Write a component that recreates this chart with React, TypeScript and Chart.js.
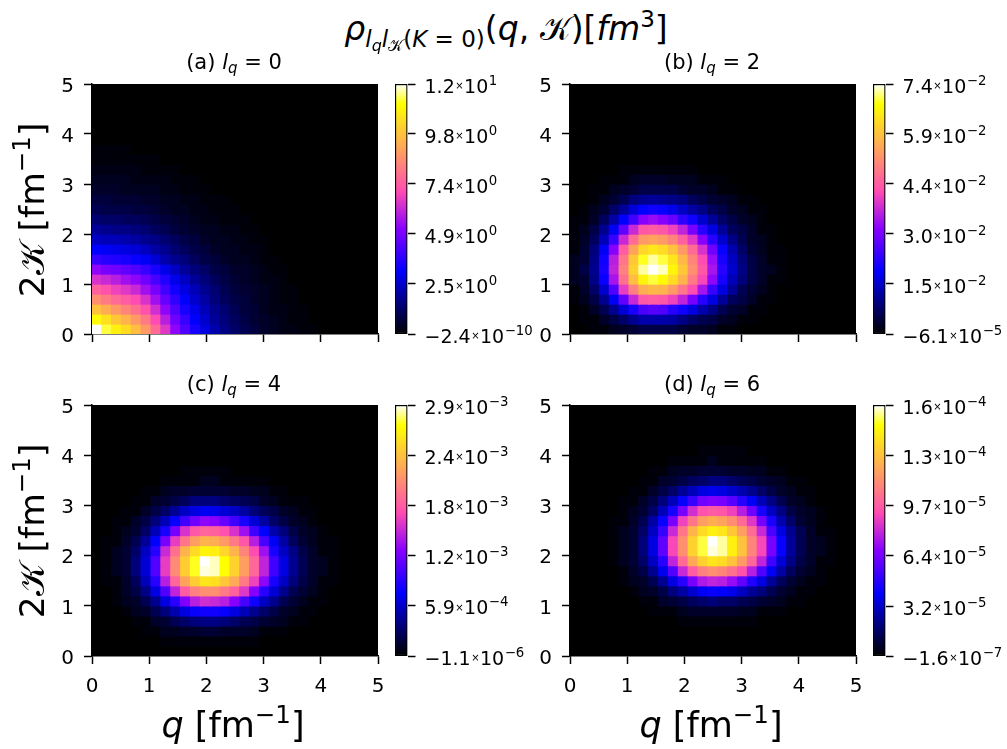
import React, { useEffect, useRef } from "react";
import { Chart, registerables } from "chart.js";

Chart.register(...registerables);

const qCells = [0.086,0.259,0.431,0.603,0.776,0.948,1.121,1.293,1.466,1.638,1.81,1.983,2.155,2.328,2.5,2.672,2.845,3.017,3.19,3.362,3.534,3.707,3.879,4.052,4.224,4.397,4.569,4.741,4.914];
const kCells = [0.1,0.3,0.5,0.7,0.9,1.1,1.3,1.5,1.7,1.9,2.1,2.3,2.5,2.7,2.9,3.1,3.3,3.5,3.7,3.9,4.1,4.3,4.5,4.7,4.9];

// Percent of each panel's colour-bar range, one row per kCells entry; short rows end in black.
const rowsA = [
[100,94,89,85,79,72,63,53,43,35,28,22,17,13,10,8,6,4,3,2,2,1,1],
[91,86,81,77,72,66,57,48,39,32,25,20,15,12,9,7,5,4,3,2,1,1],
[80,76,72,68,64,58,51,43,35,28,23,18,14,11,8,6,5,3,2,2,1,1],
[70,66,63,60,57,52,45,38,31,25,20,16,12,9,7,6,4,3,2,1,1],
[61,58,55,53,50,45,40,33,27,22,18,14,11,8,6,5,4,3,2,1,1],
[52,50,48,45,43,39,34,29,23,19,15,12,9,7,5,4,3,2,2,1],
[43,40,39,37,35,32,28,23,19,15,12,10,7,6,4,4,3,2,1,1],
[32,30,29,28,26,24,21,17,14,12,9,7,6,4,3,3,2,1,1],
[25,24,23,22,21,19,16,14,11,9,7,6,4,3,3,2,2,1],
[19,18,18,17,16,14,13,11,9,7,6,4,3,3,2,2,1,1],
[15,14,13,13,12,11,9,8,6,5,4,3,3,2,2,1,1],
[11,10,10,9,9,8,7,6,5,4,3,2,2,1,1,1],
[8,7,7,7,6,6,5,4,3,3,2,2,1,1,1],
[6,6,5,5,5,4,4,3,3,2,2,1,1,1],
[4,4,4,3,3,3,3,2,2,1,1,1],
[3,3,3,3,2,2,2,2,1,1,1],
[2,2,2,2,2,1,1,1,1],
[1,1,1,1,1,1,1],
[1,1,1,1],
];
const rowsB = [
[0,0,1,1,3,4,5,7,7,7,7,5,4,4,3,1,1],
[0,1,1,4,7,10,14,17,17,17,16,13,10,8,7,4,3,1,1],
[0,1,4,8,14,21,28,34,36,35,30,27,22,17,13,8,5,4,1,1],
[1,3,7,14,24,37,50,59,60,59,55,49,40,30,22,15,9,7,4,1,1],
[1,4,10,20,35,54,67,76,78,77,72,65,57,46,32,22,15,8,5,3,1],
[3,5,13,26,46,64,79,90,94,91,85,77,66,56,43,28,18,12,7,4,1,1],
[3,7,14,28,49,67,83,97,100,98,90,81,70,59,46,30,20,13,7,4,3,1],
[3,5,13,27,48,65,81,93,97,94,87,78,68,57,44,28,19,12,7,4,1,1],
[1,5,12,24,42,60,74,84,87,85,80,72,63,52,39,26,17,10,5,3,1,1],
[1,4,9,18,32,50,63,72,74,72,68,61,53,42,30,20,13,8,4,3,1],
[1,3,7,14,24,37,50,59,60,59,55,49,40,30,22,15,9,7,4,1,1],
[1,1,4,9,16,25,33,42,44,42,38,31,27,20,15,10,7,4,3,1],
[0,1,3,5,10,15,21,25,27,26,23,19,16,13,9,7,4,3,1,1],
[0,0,1,3,5,8,12,14,15,14,13,12,9,7,5,4,3,1,1],
[0,0,1,1,3,4,5,7,7,7,7,5,4,4,3,1,1],
[0,0,0,1,1,1,3,4,4,4,3,3,3,1,1,1],
[0,0,0,0,0,1,1,1,1,1,1,1,1],
];
const rowsC = [
[],
[0,0,0,0,0,0,0,1,1,1,1,1,1,1,1,1,1],
[0,0,0,0,0,1,1,3,3,4,4,5,5,4,4,4,3,1,1,1],
[0,0,0,0,1,1,4,5,8,10,12,13,13,12,10,8,7,5,4,3,1,1],
[0,0,0,1,3,4,8,12,17,22,26,27,27,26,22,18,14,10,7,4,3,1,1],
[0,0,1,3,4,8,14,22,30,41,48,51,50,48,42,34,27,19,14,8,5,3,1,1],
[0,0,1,4,7,13,22,35,49,60,67,70,70,66,61,53,42,30,21,14,8,5,3,1],
[0,1,1,4,9,18,30,48,62,74,82,87,86,81,75,66,55,43,28,19,12,7,4,1,1],
[0,1,3,5,12,21,35,54,69,82,93,99,98,92,83,73,62,49,33,22,14,8,4,3,1],
[0,1,3,5,12,21,35,54,69,82,93,100,98,92,83,73,62,49,33,22,14,8,4,3,1],
[0,1,3,5,10,19,30,50,64,77,85,90,89,84,77,68,57,45,28,19,13,7,4,1,1],
[0,1,1,4,8,15,25,40,54,65,73,77,76,72,66,59,48,34,24,16,9,5,3,1,1],
[0,0,1,3,5,10,18,28,40,52,59,62,61,58,52,45,33,25,17,12,7,4,3,1],
[0,0,1,1,4,7,12,18,26,33,39,43,42,38,33,28,21,16,10,7,4,3,1],
[0,0,0,1,1,4,7,10,15,19,22,24,23,21,19,16,12,9,7,4,3,1,1],
[0,0,0,0,1,1,4,5,7,9,12,12,12,10,9,8,7,4,3,1,1,1],
[0,0,0,0,0,1,1,3,4,4,5,5,5,5,4,4,3,3,1,1],
[0,0,0,0,0,0,0,1,1,1,1,3,3,1,1,1,1,1],
[0,0,0,0,0,0,0,0,0,1,1,1,1,1],
];
const rowsD = [
[],
[],
[],
[0,0,0,0,0,0,0,0,0,0,0,1,1,1,1,1,1,1,1],
[0,0,0,0,0,0,0,0,1,1,1,3,4,4,4,4,4,3,3,1,1,1],
[0,0,0,0,0,0,0,1,1,4,5,7,9,10,12,10,10,8,7,5,4,3,1,1],
[0,0,0,0,0,0,1,3,4,7,12,16,20,24,26,25,23,19,15,12,8,5,3,1,1],
[0,0,0,0,0,1,3,4,8,14,22,30,40,47,49,48,44,37,29,22,15,9,5,3,1,1],
[0,0,0,0,0,1,4,7,14,23,35,50,60,67,70,68,64,58,48,35,24,16,9,5,3,1],
[0,0,0,0,1,3,5,10,19,30,49,63,75,83,87,85,80,72,62,49,33,21,13,7,4,1,1],
[0,0,0,0,1,3,5,12,22,37,56,70,83,94,99,97,89,80,68,56,40,26,15,8,4,3,1],
[0,0,0,0,1,3,5,12,22,37,56,70,83,94,100,97,89,80,68,56,40,26,15,8,4,3,1],
[0,0,0,0,1,3,5,10,19,32,50,65,77,85,89,87,81,73,63,50,34,22,14,8,4,1,1],
[0,0,0,0,1,1,4,8,16,26,40,55,65,73,76,74,70,63,53,40,28,17,10,5,3,1],
[0,0,0,0,0,1,3,5,10,18,28,40,51,58,60,59,55,48,39,28,19,13,7,4,3,1],
[0,0,0,0,0,1,1,4,7,12,18,26,32,39,41,40,36,30,24,18,13,8,4,3,1],
[0,0,0,0,0,0,1,1,4,7,10,15,18,22,23,22,20,17,14,10,7,4,3,1,1],
[0,0,0,0,0,0,0,1,1,4,5,7,9,10,12,12,10,8,7,5,4,3,1,1],
[0,0,0,0,0,0,0,0,1,1,3,4,4,5,5,5,4,4,3,3,1,1],
[0,0,0,0,0,0,0,0,0,0,1,1,1,1,3,1,1,1,1,1],
[0,0,0,0,0,0,0,0,0,0,0,0,0,1,1,1,1,1],
];

const axisTicks = [0, 1, 2, 3, 4, 5];

const cbTicksA = [-2.4e-10, 2.45, 4.9, 7.35, 9.8, 12.25];
const cbTextA = ["−2.4|−10", "2.5|0", "4.9|0", "7.4|0", "9.8|0", "1.2|1"];
const cbTicksB = [-6.1e-5, 0.0147, 0.0295, 0.0442, 0.059, 0.0737];
const cbTextB = ["−6.1|−5", "1.5|−2", "3.0|−2", "4.4|−2", "5.9|−2", "7.4|−2"];
const cbTicksC = [-1.1e-6, 5.85e-4, 1.17e-3, 1.755e-3, 2.34e-3, 2.925e-3];
const cbTextC = ["−1.1|−6", "5.9|−4", "1.2|−3", "1.8|−3", "2.4|−3", "2.9|−3"];
const cbTicksD = [-1.6e-7, 3.2e-5, 6.45e-5, 9.7e-5, 1.29e-4, 1.615e-4];
const cbTextD = ["−1.6|−7", "3.2|−5", "6.4|−5", "9.7|−5", "1.3|−4", "1.6|−4"];

const FONT = "'DejaVu Sans'";
const SCRIPT_K = "𝒦";

const clip01 = (x: number) => Math.min(1, Math.max(0, x));
function gnuplot2(x: number) {
  const r = clip01(x / 0.32 - 0.78125);
  const g = clip01(2 * x - 0.84);
  const b = clip01(x < 0.25 ? 4 * x : x < 0.92 ? -2 * x + 1.84 : x / 0.08 - 11.5);
  return `rgb(${Math.round(r * 255)},${Math.round(g * 255)},${Math.round(b * 255)})`;
}

const ML = 70, MR = 20, MT = 20, MB = 50;

function Heat({ left, top, width, height, rows, showX }: any) {
  const ref = useRef<HTMLCanvasElement>(null);
  useEffect(() => {
    const points: any[] = [];
    kCells.forEach((k, r) => qCells.forEach((q, c) => points.push({ x: q, y: k, v: rows[r]?.[c] ?? 0 })));
    const tickCfg = (isX: boolean) => ({
      type: "linear",
      min: 0,
      max: 5,
      afterBuildTicks: (s: any) => { s.ticks = axisTicks.map((value) => ({ value })); },
      afterFit: (s: any) => { if (isX) s.height = MB; else s.width = ML; },
      grid: { drawOnChartArea: false, drawTicks: true, tickLength: 8, tickWidth: 1.5, tickColor: "#000" },
      border: { display: true, color: "#000", width: 1.5 },
      ticks: {
        display: isX ? showX : true,
        color: "#000",
        padding: isX ? 11 : 10,
        maxRotation: 0,
        callback: isX ? (v: any) => String(v) : (v: any) => ["", String(v)],
        font: isX ? { family: FONT, size: 20 } : { family: FONT, size: 20, lineHeight: "5px" },
      },
    });
    const chart = new Chart(ref.current!, {
      type: "scatter",
      data: {
        datasets: [{
          data: points,
          pointStyle: "rect",
          pointRadius: 8,
          pointBorderWidth: 0,
          pointBackgroundColor: (ctx: any) => gnuplot2((ctx.raw?.v ?? 0) / 100),
        }],
      },
      options: {
        responsive: false,
        animation: false,
        devicePixelRatio: 1,
        events: [],
        layout: { padding: { left: 0, right: MR, top: MT, bottom: 0 } },
        plugins: { legend: { display: false }, tooltip: { enabled: false } },
        scales: { x: tickCfg(true), y: tickCfg(false) },
      },
    } as any);
    return () => chart.destroy();
  }, []);
  return (
    <canvas ref={ref} width={width + ML + MR} height={height + MT + MB}
      style={{ position: "absolute", left: left - ML, top: top - MT, display: "block" }} />
  );
}

function ColorBar({ left, top, height, ticks, texts }: any) {
  const ref = useRef<HTMLCanvasElement>(null);
  useEffect(() => {
    const labels = {
      id: "cbLabels",
      afterDraw(chart: any) {
        const { ctx } = chart;
        const s = chart.scales.y;
        ctx.save();
        ctx.fillStyle = "#000";
        ctx.textBaseline = "alphabetic";
        ctx.textAlign = "left";
        ticks.forEach((t: number, i: number) => {
          const [mant, exp] = texts[i].split("|");
          const y = s.getPixelForValue(t) + 8.7;
          let x = s.left + 17;
          ctx.font = `19px ${FONT}`;
          ctx.fillText(mant, x, y);
          x += ctx.measureText(mant).width + 0.5;
          ctx.font = `10px ${FONT}`;
          ctx.fillText("×", x, y - 3.9);
          x += ctx.measureText("×").width + 0.5;
          ctx.font = `19px ${FONT}`;
          ctx.fillText("10", x, y);
          x += ctx.measureText("10").width + 0.5;
          ctx.font = `13.3px ${FONT}`;
          ctx.fillText(exp, x, y - 8);
        });
        ctx.restore();
      },
    };
    const chart = new Chart(ref.current!, {
      type: "bar",
      data: {
        labels: ["colour"],
        datasets: [{
          data: [[ticks[0], ticks[ticks.length - 1]]],
          barPercentage: 1,
          categoryPercentage: 1,
          borderWidth: 1.5,
          borderColor: "#000",
          borderSkipped: false,
          backgroundColor: (ctx: any) => {
            const area = ctx.chart.chartArea;
            if (!area) return "#000";
            const g = ctx.chart.ctx.createLinearGradient(0, area.bottom, 0, area.top);
            for (let i = 0; i <= 100; i++) g.addColorStop(i / 100, gnuplot2(i / 100));
            return g;
          },
        }],
      },
      options: {
        responsive: false,
        animation: false,
        devicePixelRatio: 1,
        events: [],
        layout: { padding: { left: 20, right: 0.5, top: MT, bottom: MB } },
        plugins: { legend: { display: false }, tooltip: { enabled: false } },
        scales: {
          x: { display: false },
          y: {
            position: "right",
            min: ticks[0],
            max: ticks[ticks.length - 1],
            afterBuildTicks: (s: any) => { s.ticks = ticks.map((value: number) => ({ value })); },
            afterFit: (s: any) => { s.width = 137; },
            grid: { drawOnChartArea: false, drawTicks: true, tickLength: 8, tickWidth: 1.5, tickColor: "#000" },
            border: { display: false },
            ticks: { display: false },
          },
        },
      },
      plugins: [labels],
    } as any);
    return () => chart.destroy();
  }, []);
  return (
    <canvas ref={ref} width={170} height={height + MT + MB}
      style={{ position: "absolute", left: left - 20, top: top - MT, display: "block" }} />
  );
}

const Sub = ({ size, dy, children }: any) => (
  <span style={{ fontSize: size, position: "relative", top: dy, lineHeight: 0 }}>{children}</span>
);

const Text = ({ x, y, size, rotate, children }: any) => (
  <div style={{
    position: "absolute", left: x, top: y, fontFamily: FONT, fontSize: size, lineHeight: 1,
    whiteSpace: "nowrap", color: "#000",
    transform: `translate(-50%,-50%)${rotate ? " rotate(-90deg)" : ""}`,
  }}>{children}</div>
);

const PanelTitle = ({ x, y, tag, lq }: any) => (
  <Text x={x} y={y} size={21}>{tag} <i>l</i><Sub size={15} dy={4}><i>q</i></Sub> = {lq}</Text>
);
const QLabel = ({ x }: any) => (
  <Text x={x} y={725} size={35}><i>q</i> [fm<Sub size={24.5} dy={-14}>−1</Sub>]</Text>
);
const KLabel = ({ y }: any) => (
  <Text x={32} y={y} size={34.5} rotate>2{SCRIPT_K} [fm<Sub size={24.5} dy={-14}>−1</Sub>]</Text>
);

export default function App() {
  return (
    <div style={{ position: "absolute", left: 0, top: 0, width: 1007, height: 749, overflow: "hidden", background: "#fff" }}>
      <Heat left={92} top={84} width={286} height={250} rows={rowsA} showX={false} />
      <Heat left={570} top={84} width={286} height={250} rows={rowsB} showX={false} />
      <Heat left={92} top={405} width={286} height={251} rows={rowsC} showX={true} />
      <Heat left={570} top={405} width={286} height={251} rows={rowsD} showX={true} />
      <ColorBar left={395} top={84} height={250} ticks={cbTicksA} texts={cbTextA} />
      <ColorBar left={873} top={84} height={250} ticks={cbTicksB} texts={cbTextB} />
      <ColorBar left={395} top={405} height={251} ticks={cbTicksC} texts={cbTextC} />
      <ColorBar left={873} top={405} height={251} ticks={cbTicksD} texts={cbTextD} />
      <Text x={506} y={28} size={33}>
        <i>ρ</i>
        <Sub size={23} dy={7}><i>l</i><Sub size={16} dy={4}><i>q</i></Sub><i>l</i><Sub size={16} dy={4}>{SCRIPT_K}</Sub>(<i>K</i> = 0)</Sub>
        (<i>q</i>, {SCRIPT_K})[<i>fm</i><Sub size={23} dy={-13}>3</Sub>]
      </Text>
      <PanelTitle x={234} y={62} tag="(a)" lq="0" />
      <PanelTitle x={712} y={62} tag="(b)" lq="2" />
      <PanelTitle x={234} y={384} tag="(c)" lq="4" />
      <PanelTitle x={712} y={384} tag="(d)" lq="6" />
      <KLabel y={210} />
      <KLabel y={531} />
      <QLabel x={233} />
      <QLabel x={711} />
    </div>
  );
}
